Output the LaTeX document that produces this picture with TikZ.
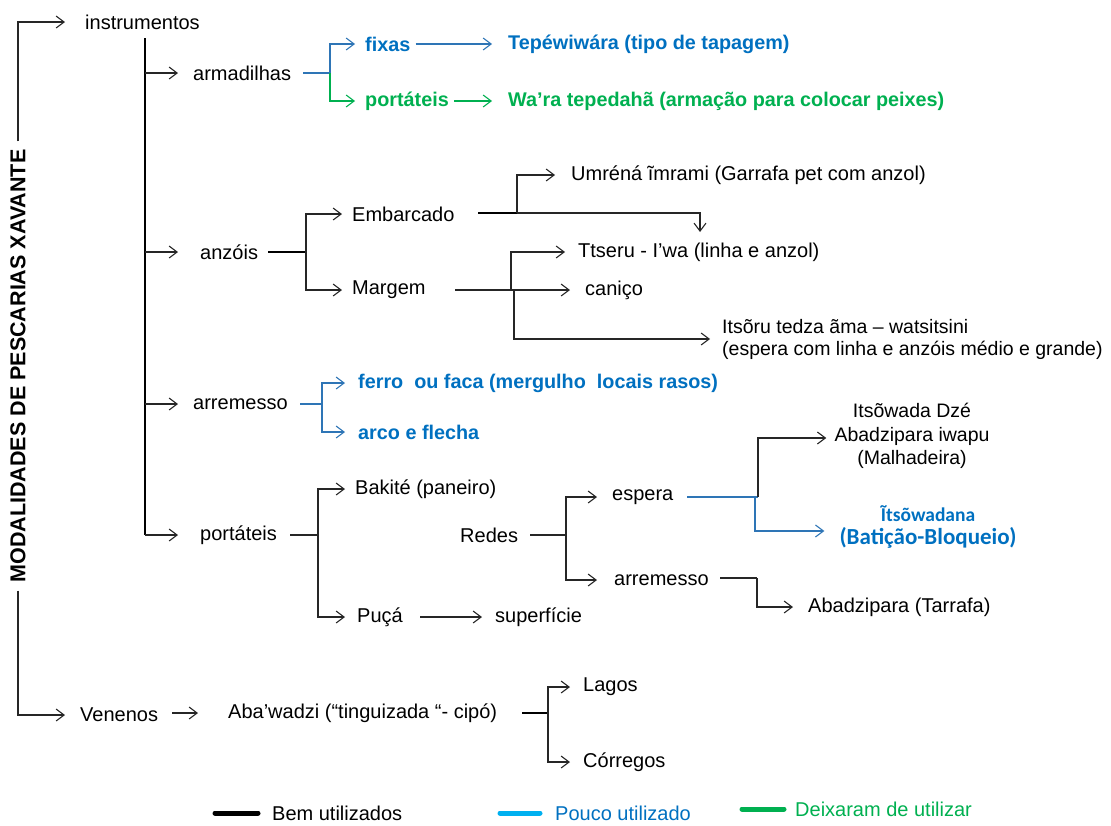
\documentclass[tikz,border=0pt]{standalone}
\usepackage{fontspec}
\setmainfont{Liberation Sans}
\newfontfamily\carl{Carlito}
\usetikzlibrary{arrows.meta}
\definecolor{tblue}{HTML}{0070C0}
\definecolor{lblue}{HTML}{2E75B6}
\definecolor{tgreen}{HTML}{00B050}
\definecolor{cyanl}{HTML}{00B0F0}
\tikzset{
  txt/.style={inner sep=0pt, anchor=west, font=\fontsize{20}{23}\selectfont},
  btxt/.style={txt, font=\fontsize{19.8}{23}\selectfont\bfseries},
  ln/.style={line width=1.1pt, draw=black!85},
  thk/.style={line width=2pt, draw=black},
  arr/.style={ln, -{Straight Barb[length=8pt,width=12pt,line width=1.1pt]}},
  barr/.style={arr, draw=lblue},
  garr/.style={arr, draw=tgreen},
  legline/.style={line width=5pt, line cap=round},
}
\begin{document}
\begin{tikzpicture}[x=1pt,y=-1pt]
\useasboundingbox (0,0) rectangle (1111,825);
% title
\node[rotate=90, inner xsep=8pt, inner ysep=0pt, font=\fontsize{21.5}{22}\selectfont\bfseries] (title) at (18,366) {MODALIDADES DE PESCARIAS XAVANTE};
% nodes
\node[txt] (instr) at (85,22) {instrumentos};
\node[txt] (armad) at (193,73) {armadilhas};
\node[btxt, text=tblue] (fixas) at (365,44) {fixas};
\node[btxt, text=tblue] (tepe) at (508,44) {Tepéwiwára (tipo de tapagem)};
\node[btxt, text=tgreen] (portA) at (365,101) {portáteis};
\node[btxt, text=tgreen] (wara) at (508,101) {Wa’ra tepedahã (armação para colocar peixes)};
\node[txt] (anzois) at (200,252) {anzóis};
\node[txt] (embar) at (352,214) {Embarcado};
\node[txt] (umrena) at (571,175) {Umréná ĩmrami (Garrafa pet com anzol)};
\node[txt] (margem) at (352,290) {Margem};
\node[txt] (ttseru) at (578,252) {Ttseru - I’wa (linha e anzol)};
\node[txt] (canico) at (585,290) {caniço};
\node[txt, align=left, font=\fontsize{19.5}{22}\selectfont] (itsoru) at (722,339) {Itsõru tedza ãma – watsitsini\\(espera com linha e anzóis médio e grande)};
\node[txt] (arrem) at (193,404) {arremesso};
\node[btxt, text=tblue] (ferro) at (358,383) {ferro\ \ ou faca (mergulho\ \ locais rasos)};
\node[btxt, text=tblue] (arco) at (358,432) {arco e flecha};
\node[txt] (portB) at (200,535) {portáteis};
\node[txt] (bakite) at (355,489) {Bakité (paneiro)};
\node[txt] (puca) at (357,617) {Puçá};
\node[txt] (superf) at (495,617) {superfície};
\node[txt] (redes) at (460,535) {Redes};
\node[txt] (espera) at (612,497) {espera};
\node[txt] (arrem2) at (614,580) {arremesso};
\node[inner sep=0pt, align=center, font=\fontsize{19.5}{23.5}\selectfont] (malha) at (912,436) {Itsõwada Dzé\\Abadzipara iwapu\\(Malhadeira)};
\node[inner sep=0pt, align=center, text=tblue, font=\carl\bfseries\fontsize{23}{23}\selectfont] (itsow) at (928,527) {{\fontsize{19.5}{23}\selectfont Ĩtsõwadana}\\(Batição-Bloqueio)};
\node[txt] (abadz) at (808,607) {Abadzipara (Tarrafa)};
\node[txt] (venenos) at (80,715) {Venenos};
\node[txt] (abaw) at (228,713) {Aba’wadzi (“tinguizada “- cipó)};
\node[txt] (lagos) at (583,687) {Lagos};
\node[txt] (corr) at (583,762) {Córregos};
% legend
\node[txt] (leg1) at (272,813) {Bem utilizados};
\node[txt, text=tblue] (leg2) at (555,813) {Pouco utilizado};
\node[txt, text=tgreen] (leg3) at (795,809) {Deixaram de utilizar};
\draw[legline, black] ([xshift=-57]leg1.west) -- ([xshift=-14]leg1.west);
\draw[legline, cyanl] ([xshift=-55]leg2.west) -- ([xshift=-15]leg2.west);
\draw[legline, tgreen] ([xshift=-53]leg3.west) -- ([xshift=-11]leg3.west);

% coordinates
\coordinate (iv) at (145,38);
\coordinate (fa) at (330,73);
\coordinate (fz) at (306,252);
\coordinate (fe) at (517,213);
\coordinate (dtip) at (700,232);
\coordinate (fm) at (511,290);
\coordinate (fm2) at (514,290);
\coordinate (fr) at (322,404);
\coordinate (fp) at (318,535);
\coordinate (fd) at (566,535);
\coordinate (fs) at (758,497);
\coordinate (fs2) at (755,497);
\coordinate (ft) at (757,578);
\coordinate (fv) at (548,713);

% main left
\draw[arr] (title.east) |- ([xshift=-20]instr.west);
\draw[arr] (title.west) |- ([xshift=-15]venenos.west);
% instruments trunk
\draw[line width=1.8pt] (iv) -- (iv |- portB);
\draw[arr] (iv |- armad) -- ([xshift=-15]armad.west);
\draw[arr] (iv |- anzois) -- ([xshift=-22]anzois.west);
\draw[arr] (iv |- arrem) -- ([xshift=-15]arrem.west);
\draw[arr] (iv |- portB) -- ([xshift=-22]portB.west);
% armadilhas
\draw[line width=1.8pt, lblue] ([xshift=12]armad.east) -- (fa);
\draw[barr] (fa) |- ([xshift=-10]fixas.west);
\draw[garr] (fa) |- ([xshift=-10]portA.west);
\draw[barr] ([xshift=5]fixas.east) -- ([xshift=-16]tepe.west);
\draw[garr] ([xshift=5]portA.east) -- ([xshift=-16]wara.west);
% anzois
\draw[thk] ([xshift=10]anzois.east) -- (fz);
\draw[arr] (fz) |- ([xshift=-10]embar.west);
\draw[arr] (fz) |- ([xshift=-10]margem.west);
\draw[thk] (478,213) -- (fe);
\draw[arr] (fe) |- ([xshift=-16]umrena.west);
\draw[arr] (fe) -| (dtip);
\draw[ln] (455,290) -- (fm);
\draw[arr] (fm) |- ([xshift=-13]ttseru.west);
\draw[arr] (fm) -- ([xshift=-15]canico.west);
\draw[arr] (fm2) |- ([xshift=-12]itsoru.west);
% arremesso
\draw[line width=2.2pt, lblue] (300,404) -- (fr);
\draw[barr] (fr) |- ([xshift=-13]ferro.west);
\draw[barr] (fr) |- ([xshift=-13]arco.west);
% portateis
\draw[ln] (290,535) -- (fp);
\draw[arr] (fp) |- ([xshift=-10]bakite.west);
\draw[arr] (fp) |- ([xshift=-12]puca.west);
\draw[arr] (420,617) -- ([xshift=-13]superf.west);
\draw[ln] (530,535) -- (fd);
\draw[arr] (fd) |- ([xshift=-15]espera.west);
\draw[arr] (fd) |- ([xshift=-17]arrem2.west);
\draw[line width=1.6pt, lblue] (687,497) -- (fs);
\draw[arr] (fs) |- ([xshift=-8,yshift=-2]malha.west);
\draw[barr] (fs2) |- ([xshift=-15,yshift=-4]itsow.west);
\draw[ln] (720,578) -- (ft);
\draw[arr] (ft) |- ([xshift=-15]abadz.west);
% venenos
\draw[arr] (172,713) -- ([xshift=-30]abaw.west);
\draw[thk] (522,713) -- (fv);
\draw[arr] (fv) |- ([xshift=-13]lagos.west);
\draw[arr] (fv) |- ([xshift=-13]corr.west);
\end{tikzpicture}
\end{document}
